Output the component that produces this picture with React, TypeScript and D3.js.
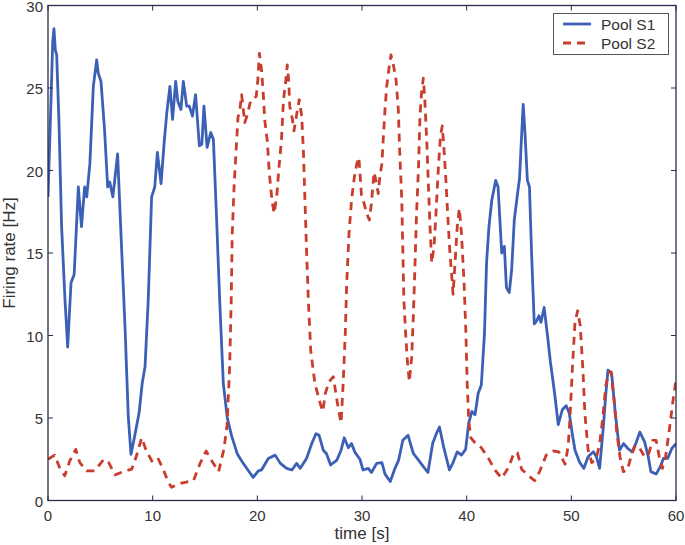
import React from "react";
import * as d3 from "d3";

const xTicks = [0, 10, 20, 30, 40, 50, 60];
const yTicks = [0, 5, 10, 15, 20, 25, 30];
const seriesNames = ["Pool S1", "Pool S2"];

const poolS1: [number, number][] = [
  [0.0, 18.4], [0.25, 23.5], [0.45, 27.8], [0.57, 28.6], [0.7, 27.3], [0.83, 27.0], [1.05, 22.9],
  [1.3, 16.6], [1.62, 12.2], [1.88, 9.3], [2.2, 13.2], [2.5, 13.7], [2.9, 19.0], [3.2, 16.6],
  [3.5, 19.0], [3.7, 18.4], [4.0, 20.4], [4.33, 25.1], [4.65, 26.7], [4.8, 25.9], [5.06, 25.4],
  [5.4, 22.5], [5.7, 19.0], [5.9, 19.3], [6.2, 18.4], [6.65, 21.0], [6.97, 16.2], [7.36, 10.5],
  [7.67, 5.1], [7.93, 2.8], [8.25, 3.8], [8.7, 5.3], [9.0, 7.1], [9.27, 8.1], [9.58, 12.2],
  [9.9, 18.4], [10.2, 19.0], [10.45, 21.1], [10.8, 19.2], [11.1, 21.7], [11.35, 23.5], [11.65, 25.1],
  [11.9, 23.1], [12.2, 25.4], [12.4, 24.2], [12.7, 23.7], [12.93, 25.4], [13.25, 23.9], [13.5, 23.9],
  [13.8, 23.3], [14.1, 24.6], [14.46, 21.5], [14.7, 21.6], [14.9, 23.9], [15.2, 21.4], [15.55, 22.3],
  [15.8, 21.9], [16.1, 17.2], [16.4, 12.2], [16.75, 7.1], [17.13, 5.0], [17.55, 3.9], [18.1, 2.8],
  [18.6, 2.3], [19.1, 1.85], [19.6, 1.4], [20.1, 1.8], [20.4, 1.85], [21.05, 2.55], [21.7, 2.75],
  [22.2, 2.25], [22.8, 1.95], [23.3, 1.85], [23.76, 2.25], [24.1, 1.95], [24.7, 2.55], [25.2, 3.45],
  [25.6, 4.05], [25.9, 3.95], [26.3, 3.05], [26.6, 2.85], [27.0, 2.15], [27.6, 2.45], [28.0, 3.05],
  [28.3, 3.8], [28.7, 3.2], [29.0, 3.45], [29.3, 2.95], [29.8, 2.5], [30.1, 1.85], [30.6, 1.95],
  [30.9, 1.7], [31.4, 2.25], [31.9, 2.3], [32.2, 1.6], [32.7, 1.15], [33.15, 1.95], [33.5, 2.45],
  [33.9, 3.65], [34.4, 3.95], [34.9, 2.85], [35.4, 2.45], [35.86, 2.05], [36.3, 1.7], [36.75, 3.45],
  [37.1, 4.05], [37.4, 4.45], [37.8, 3.25], [38.35, 1.85], [38.7, 2.3], [39.1, 2.95], [39.5, 2.75],
  [39.9, 3.1], [40.2, 4.7], [40.5, 5.4], [40.8, 5.2], [41.1, 6.5], [41.4, 7.0], [41.7, 10.1],
  [41.9, 14.4], [42.13, 16.6], [42.4, 18.2], [42.77, 19.4], [43.0, 19.0], [43.35, 15.0], [43.6, 15.4],
  [43.8, 12.9], [44.07, 12.6], [44.3, 14.0], [44.55, 17.0], [44.9, 18.8], [45.05, 19.5], [45.2, 21.5],
  [45.4, 24.0], [45.57, 22.3], [45.8, 19.4], [46.0, 19.0], [46.2, 15.0], [46.46, 10.7], [46.7, 10.9],
  [46.9, 11.2], [47.1, 10.8], [47.4, 11.7], [47.74, 9.9], [48.0, 8.4], [48.4, 6.5], [48.75, 4.6],
  [49.14, 5.5], [49.5, 5.75], [49.8, 5.3], [50.1, 4.0], [50.35, 3.05], [50.8, 2.3], [51.2, 1.95],
  [51.6, 2.65], [52.1, 2.95], [52.4, 2.65], [52.7, 1.95], [53.05, 4.4], [53.3, 6.5], [53.5, 7.9],
  [53.85, 7.7], [54.2, 5.3], [54.6, 3.05], [55.0, 3.45], [55.4, 3.15], [55.8, 2.95], [56.1, 3.35],
  [56.55, 4.15], [57.0, 3.55], [57.35, 2.65], [57.6, 1.75], [58.1, 1.6], [58.5, 2.05], [58.8, 2.55],
  [59.2, 2.55], [59.6, 3.15], [60.0, 3.45],
];

const poolS2: [number, number][] = [
  [0.0, 2.5], [0.64, 2.75], [1.1, 2.0], [1.6, 1.5], [2.08, 2.4], [2.65, 3.1], [3.04, 2.3],
  [3.68, 1.8], [4.47, 1.8], [5.33, 2.5], [5.8, 2.3], [6.4, 1.55], [7.2, 1.75], [8.0, 1.9],
  [8.4, 2.6], [8.95, 3.8], [9.4, 3.0], [10.0, 2.3], [10.55, 2.5], [11.0, 1.9], [11.5, 1.1],
  [11.8, 0.8], [12.45, 1.0], [13.1, 1.1], [13.9, 1.2], [14.5, 2.2], [15.1, 3.0], [15.65, 2.4],
  [16.3, 1.75], [16.8, 3.1], [17.1, 4.5], [17.35, 8.0], [17.5, 12.0], [17.6, 16.1], [17.77, 18.9],
  [17.96, 21.1], [18.15, 23.2], [18.35, 23.8], [18.5, 24.6], [18.8, 22.9], [19.05, 23.4], [19.35, 24.2],
  [19.6, 24.3], [19.9, 24.5], [20.05, 25.5], [20.2, 27.1], [20.4, 26.1], [20.6, 24.3], [20.7, 23.1],
  [20.95, 21.8], [21.15, 19.8], [21.4, 18.2], [21.6, 17.4], [21.85, 18.4], [22.07, 20.2], [22.3, 21.8],
  [22.5, 24.3], [22.7, 25.3], [22.86, 26.4], [23.0, 25.4], [23.1, 23.9], [23.35, 23.1], [23.5, 22.4],
  [23.76, 23.4], [24.0, 24.3], [24.24, 23.3], [24.4, 21.2], [24.55, 18.2], [24.7, 15.2], [24.87, 12.2],
  [25.1, 9.1], [25.5, 7.1], [26.0, 5.9], [26.25, 5.4], [26.5, 6.5], [26.85, 7.2], [27.26, 7.5],
  [27.5, 6.5], [27.7, 5.7], [28.0, 4.7], [28.2, 7.1], [28.4, 10.1], [28.54, 13.2], [28.76, 16.2],
  [29.0, 18.2], [29.27, 19.6], [29.5, 20.4], [29.7, 20.8], [29.95, 18.5], [30.2, 18.0], [30.45, 17.4],
  [30.7, 17.0], [30.9, 18.0], [31.15, 19.9], [31.4, 19.2], [31.55, 18.6], [31.7, 19.6], [31.9, 20.4],
  [32.0, 21.6], [32.2, 23.7], [32.36, 25.1], [32.6, 26.3], [32.77, 27.0], [33.0, 26.4], [33.25, 25.5],
  [33.47, 23.7], [33.6, 21.2], [33.8, 18.2], [33.9, 15.2], [34.0, 12.2], [34.17, 10.1], [34.33, 8.5],
  [34.52, 7.2], [34.75, 8.7], [34.9, 11.1], [35.06, 14.2], [35.2, 17.2], [35.4, 20.2], [35.54, 23.3],
  [35.7, 24.8], [35.86, 25.6], [36.0, 24.3], [36.2, 21.6], [36.34, 19.2], [36.5, 16.6], [36.66, 14.4],
  [36.88, 15.4], [37.07, 17.4], [37.3, 20.2], [37.5, 22.1], [37.67, 22.7], [37.8, 21.6], [38.0, 19.6],
  [38.2, 17.2], [38.4, 15.0], [38.6, 13.4], [38.7, 12.5], [38.9, 14.5], [39.1, 16.6], [39.3, 17.7],
  [39.5, 16.2], [39.75, 13.2], [39.93, 10.1], [40.05, 7.1], [40.2, 4.8], [40.4, 3.8], [40.8, 3.5],
  [41.4, 3.2], [42.05, 2.6], [42.7, 1.85], [43.35, 1.35], [44.0, 2.0], [44.5, 2.85], [44.85, 2.9],
  [45.25, 1.9], [45.9, 1.5], [46.5, 1.2], [47.0, 1.8], [47.6, 2.75], [48.3, 3.0], [48.8, 2.95],
  [49.4, 2.2], [49.7, 3.3], [49.87, 5.0], [50.1, 8.0], [50.35, 10.8], [50.6, 11.5], [50.85, 10.6],
  [51.1, 8.0], [51.3, 5.2], [51.6, 3.1], [51.95, 2.3], [52.35, 2.5], [52.7, 3.4], [53.0, 5.0],
  [53.3, 7.0], [53.6, 7.8], [53.8, 7.8], [54.1, 6.0], [54.33, 4.2], [54.65, 2.65], [54.97, 1.75],
  [55.35, 1.85], [55.7, 2.65], [56.1, 3.35], [56.55, 3.15], [57.0, 2.65], [57.35, 2.75], [57.77, 3.65],
  [58.1, 3.65], [58.4, 2.65], [58.7, 1.95], [59.0, 2.65], [59.35, 4.2], [59.7, 6.0], [60.0, 7.3],
];

const W = 685;
const H = 545;
const L = 48, R = 676, T = 5.5, B = 500.5;
const FONT = "'Liberation Sans', Arial, Helvetica, sans-serif";
const AXIS = "#2a2a4e";
const TEXT = "#333333";
const BLUE = "#3b60b6";
const RED = "#c83d2d";

export default function App() {
  const x = d3.scaleLinear().domain([0, 60]).range([L, R]);
  const y = d3.scaleLinear().domain([0, 30]).range([B, T]);
  const line = d3.line<[number, number]>().x((d) => x(d[0])).y((d) => y(d[1]));
  const tl = 5;
  return (
    <svg width={W} height={H} style={{ position: "absolute", left: 0, top: 0, background: "#fff" }}>
      <rect x={0} y={0} width={W} height={H} fill="#fff" />
      <defs>
        <clipPath id="plotclip">
          <rect x={L} y={T} width={R - L} height={B - T} />
        </clipPath>
      </defs>
      <g clipPath="url(#plotclip)" fill="none" strokeLinejoin="round">
        <path d={line(poolS1) || ""} stroke={BLUE} strokeWidth={2.8} />
        <path d={line(poolS2) || ""} stroke={RED} strokeWidth={2.8} strokeDasharray="8,6" />
      </g>
      <g stroke={AXIS} strokeWidth={1}>
        {xTicks.map((t) => (
          <g key={"xt" + t}>
            <line x1={x(t)} x2={x(t)} y1={B} y2={B - tl} />
            <line x1={x(t)} x2={x(t)} y1={T} y2={T + tl} />
          </g>
        ))}
        {yTicks.map((t) => (
          <g key={"yt" + t}>
            <line x1={L} x2={L + tl} y1={y(t)} y2={y(t)} />
            <line x1={R} x2={R - tl} y1={y(t)} y2={y(t)} />
          </g>
        ))}
      </g>
      <rect x={L} y={T} width={R - L} height={B - T} fill="none" stroke={AXIS} strokeWidth={1.3} />
      <g fontFamily={FONT} fontSize={15} fill={TEXT}>
        {xTicks.map((t) => (
          <text key={"xl" + t} x={x(t)} y={521} textAnchor="middle">{t}</text>
        ))}
        {yTicks.map((t) => (
          <text key={"yl" + t} x={43} y={y(t) + 6.3} textAnchor="end">{t}</text>
        ))}
      </g>
      <g fontFamily={FONT} fontSize={17} fill={TEXT}>
        <text x={(L + R) / 2} y={539} textAnchor="middle">time [s]</text>
        <text transform={`translate(15,${(T + B) / 2}) rotate(-90)`} textAnchor="middle">Firing rate [Hz]</text>
      </g>
      <g>
        <rect x={553.5} y={13.5} width={115} height={41} fill="#fff" stroke="#555" strokeWidth={1} />
        <line x1={563} x2={591} y1={24} y2={24} stroke={BLUE} strokeWidth={2.8} />
        <line x1={563} x2={591} y1={43} y2={43} stroke={RED} strokeWidth={2.8} strokeDasharray="8,6" />
        <g fontFamily={FONT} fontSize={15.5} fill={TEXT}>
          <text x={601} y={29.5}>{seriesNames[0]}</text>
          <text x={601} y={48.5}>{seriesNames[1]}</text>
        </g>
      </g>
    </svg>
  );
}
